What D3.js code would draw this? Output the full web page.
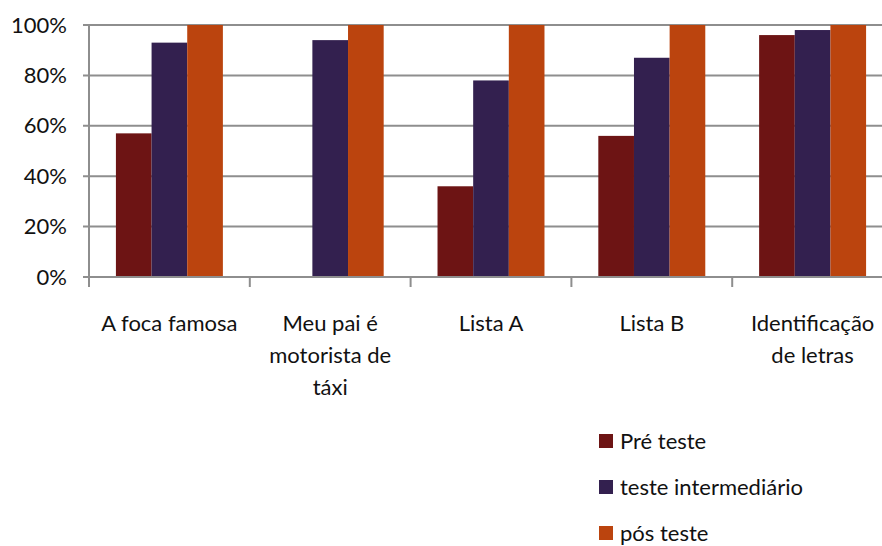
<!DOCTYPE html>
<html>
<head>
<meta charset="utf-8">
<script src="https://cdn.jsdelivr.net/npm/d3@7"></script>
<style>
  html, body { margin: 0; padding: 0; background: #fff; }
  svg { display: block; font-family: Lato, "Open Sans", sans-serif; }
</style>
</head>
<body>
<svg id="chart" width="882" height="546"></svg>
<script>
// Categories (test texts) and the three test rounds
const categories = ["A foca famosa", "Meu pai é motorista de táxi", "Lista A", "Lista B", "Identificação de letras"];
const seriesNames = ["Pré teste", "teste intermediário", "pós teste"];
const preTeste = [0.57, 0, 0.36, 0.56, 0.96];
const testeIntermediario = [0.93, 0.94, 0.78, 0.87, 0.98];
const posTeste = [1, 1, 1, 1, 1];
const yTicks = [0, 0.2, 0.4, 0.6, 0.8, 1];
const colors = ["#6d1414", "#33204f", "#bb440e"];

const seriesValues = [preTeste, testeIntermediario, posTeste];

const svg = d3.select("#chart");
const plotLeft = 89, plotRight = 893, plotTop = 25, plotBottom = 277;
const textColor = "#111";

const x0 = d3.scaleBand().domain(categories).range([plotLeft, plotRight]).padding(0);
const x1 = d3.scaleBand().domain(seriesNames).range([0, x0.bandwidth()])
  .paddingInner(0).paddingOuter(0.755);
const y = d3.scaleLinear().domain([0, 1]).range([plotBottom, plotTop]);
const color = d3.scaleOrdinal().domain(seriesNames).range(colors);

// horizontal gridlines
svg.append("g")
  .selectAll("line")
  .data(yTicks)
  .join("line")
  .attr("x1", plotLeft - 6)
  .attr("x2", 882)
  .attr("y1", d => y(d))
  .attr("y2", d => y(d))
  .attr("stroke", "#8e8e8e")
  .attr("stroke-width", 2);

// y axis labels
const yAxis = d3.axisLeft(y).tickValues(yTicks).tickFormat(d3.format(".0%")).tickSize(0).tickPadding(22);
const gy = svg.append("g").attr("transform", `translate(${plotLeft},0)`).call(yAxis);
gy.select(".domain").remove();
gy.selectAll("text")
  .attr("font-family", "Lato, sans-serif")
  .attr("font-size", 22)
  .attr("fill", textColor);

// vertical axis line
svg.append("line")
  .attr("x1", plotLeft).attr("x2", plotLeft)
  .attr("y1", plotTop).attr("y2", plotBottom + 1)
  .attr("stroke", "#8e8e8e").attr("stroke-width", 2);

// bars
const groups = svg.append("g")
  .selectAll("g")
  .data(categories)
  .join("g")
  .attr("transform", d => `translate(${x0(d)},0)`);

groups.selectAll("rect")
  .data((c, i) => seriesNames.map((s, k) => ({ s, v: seriesValues[k][i] })))
  .join("rect")
  .attr("x", d => x1(d.s))
  .attr("width", x1.bandwidth())
  .attr("y", d => y(d.v))
  .attr("height", d => y(0) - y(d.v))
  .attr("fill", d => color(d.s));

// x axis with category boundary ticks
svg.append("line")
  .attr("x1", plotLeft - 6).attr("x2", 882)
  .attr("y1", plotBottom).attr("y2", plotBottom)
  .attr("stroke", "#8e8e8e").attr("stroke-width", 2);

const boundaries = categories.map(c => x0(c)).concat([plotRight]);
svg.append("g")
  .selectAll("line")
  .data(boundaries)
  .join("line")
  .attr("x1", d => d).attr("x2", d => d)
  .attr("y1", plotBottom).attr("y2", plotBottom + 10)
  .attr("stroke", "#8e8e8e").attr("stroke-width", 2);

// category labels, wrapped to the band width
function wrapWords(text, maxWidth, measure) {
  const words = text.split(" ");
  const lines = [];
  let line = [];
  words.forEach(w => {
    const trial = line.concat([w]).join(" ");
    if (line.length && measure(trial) > maxWidth) {
      lines.push(line.join(" "));
      line = [w];
    } else {
      line.push(w);
    }
  });
  if (line.length) lines.push(line.join(" "));
  return lines;
}

const measurer = svg.append("text")
  .attr("font-size", 22).attr("font-family", "Lato, sans-serif")
  .attr("visibility", "hidden");
const measure = s => { measurer.text(s); return measurer.node().getComputedTextLength(); };

const labels = svg.append("g")
  .selectAll("text")
  .data(categories)
  .join("text")
  .attr("x", d => x0(d) + x0.bandwidth() / 2)
  .attr("y", 331)
  .attr("text-anchor", "middle")
  .attr("font-size", 22)
  .attr("fill", textColor);

labels.each(function (d) {
  const lines = wrapWords(d, 150, measure);
  d3.select(this).selectAll("tspan")
    .data(lines)
    .join("tspan")
    .attr("x", x0(d) + x0.bandwidth() / 2)
    .attr("dy", (l, i) => i === 0 ? 0 : 32)
    .text(l => l);
});
measurer.remove();

// legend
const legend = svg.append("g")
  .selectAll("g")
  .data(seriesNames)
  .join("g")
  .attr("transform", (d, i) => `translate(599,${441 + i * 46})`);

legend.append("rect")
  .attr("x", 0).attr("y", -7)
  .attr("width", 14).attr("height", 14)
  .attr("fill", d => color(d));

legend.append("text")
  .attr("x", 21).attr("y", 0)
  .attr("dy", "0.35em")
  .attr("font-size", 22)
  .attr("fill", textColor)
  .text(d => d);
</script>
</body>
</html>
